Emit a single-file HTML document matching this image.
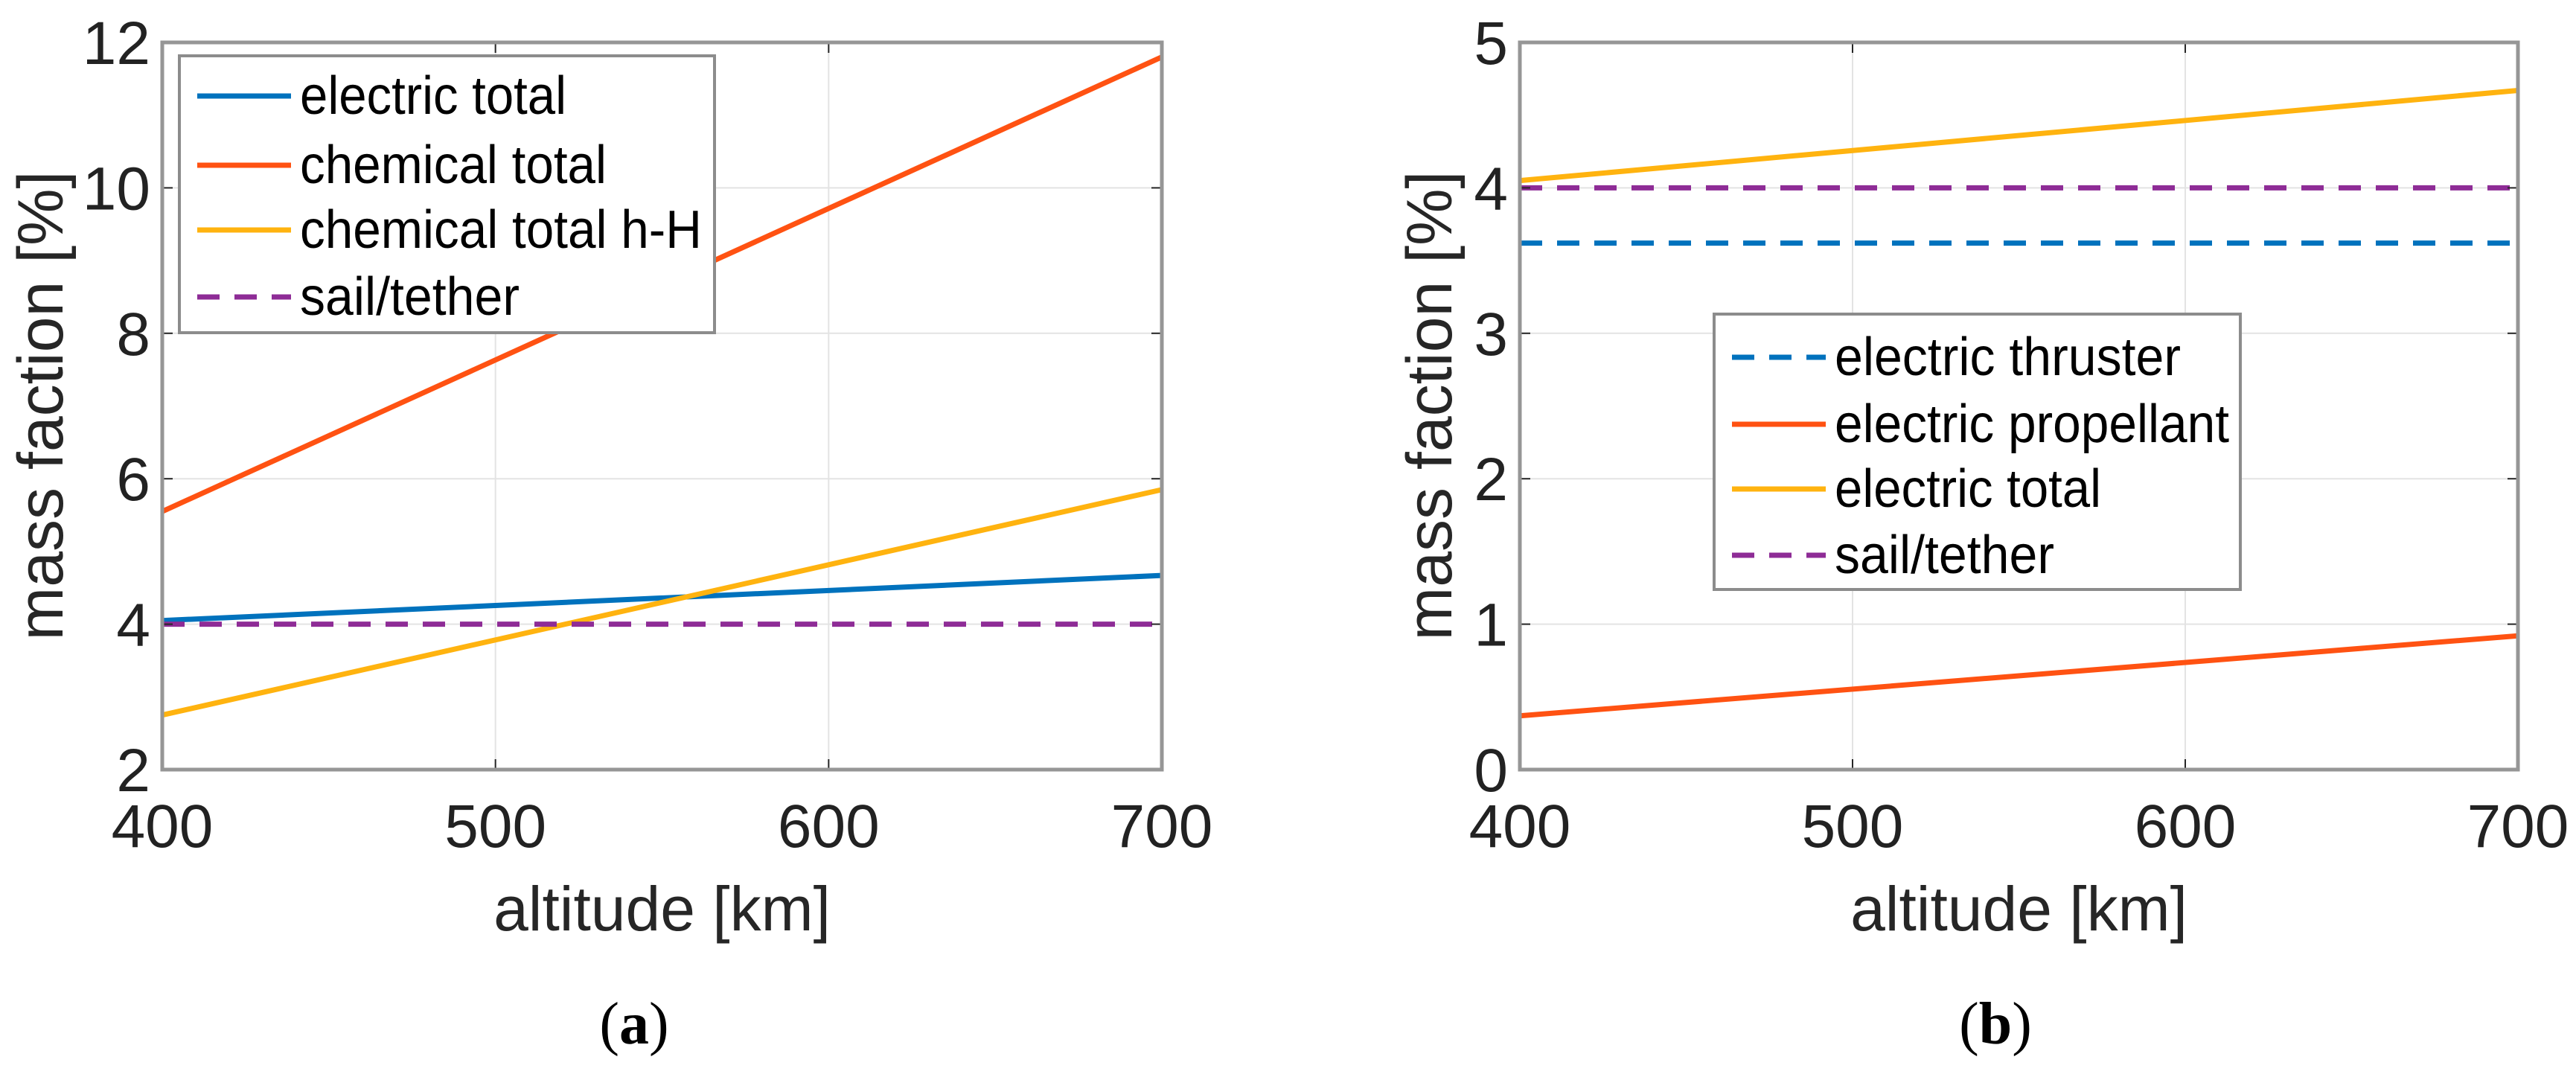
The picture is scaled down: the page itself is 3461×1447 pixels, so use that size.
<!DOCTYPE html>
<html><head><meta charset="utf-8"><style>
html,body{margin:0;padding:0;background:#fff;}
svg{display:block;font-family:"Liberation Sans",Arial,sans-serif;}
</style></head><body>
<svg id="fig" width="3461" height="1447" viewBox="0 0 3461 1447" xmlns="http://www.w3.org/2000/svg">
<g id="pa"></g>
<g id="pb"></g>
</svg>
<script>
const xTicks = [400, 500, 600, 700];
const yTicksA = [2, 4, 6, 8, 10, 12];
const yTicksB = [0, 1, 2, 3, 4, 5];
const xEnds = [400, 700];
const aElectricTotal = [4.05, 4.67];
const aChemicalTotal = [5.55, 11.8];
const aChemicalHH = [2.75, 5.85];
const aSail = [4.0, 4.0];
const bThruster = [3.62, 3.62];
const bPropellant = [0.37, 0.92];
const bTotal = [4.05, 4.67];
const bSail = [4.0, 4.0];

const NS = "http://www.w3.org/2000/svg";
function mk(parent, tag, attrs, text){
  const e = document.createElementNS(NS, tag);
  for (const k in attrs) e.setAttribute(k, attrs[k]);
  if (text !== undefined) e.textContent = text;
  parent.appendChild(e);
  return e;
}
const BLUE="#0072BD", ORANGE="#FF5212", YELLOW="#FFB30F", PURPLE="#8E2C96";

function panel(g, cfg){
  const L=cfg.left, R=cfg.right, T=57, B=1034;
  const sx = v => L + (v - 400) / 300 * (R - L);
  const sy = v => B - (v - cfg.ymin) / (cfg.ymax - cfg.ymin) * (B - T);
  xTicks.forEach(t=>{
    const l = mk(g,'line',{x1:sx(t),x2:sx(t),y1:T,y2:B,stroke:'#e3e3e3','stroke-width':2});
    
    
  });
  cfg.yTicks.forEach(t=>{
    const l = mk(g,'line',{x1:L,x2:R,y1:sy(t),y2:sy(t),stroke:'#e3e3e3','stroke-width':2});
    
    
  });
  cfg.series.forEach(s=>{
    const a = {x1:sx(xEnds[0]),y1:sy(s.v[0]),x2:sx(xEnds[1]),y2:sy(s.v[1]),stroke:s.c,'stroke-width':7};
    if (s.dash) a['stroke-dasharray']='30 20';
    const l = mk(g,'line',a);
    
    
  });
  xTicks.forEach(t=>{
    mk(g,'line',{x1:sx(t),x2:sx(t),y1:B,y2:B-14,stroke:'#262626','stroke-width':2});
    mk(g,'line',{x1:sx(t),x2:sx(t),y1:T,y2:T+14,stroke:'#262626','stroke-width':2});
    const tx = mk(g,'text',{x:sx(t),y:1138,'font-size':82,'text-anchor':'middle',fill:'#222'},String(t));
    
    
  });
  cfg.yTicks.forEach(t=>{
    mk(g,'line',{x1:L,x2:L+14,y1:sy(t),y2:sy(t),stroke:'#262626','stroke-width':2});
    mk(g,'line',{x1:R,x2:R-14,y1:sy(t),y2:sy(t),stroke:'#262626','stroke-width':2});
    const tx = mk(g,'text',{x:L-16,y:sy(t)+29,'font-size':82,'text-anchor':'end',fill:'#222'},String(t));
    
    
  });
  const box = mk(g,'rect',{x:L,y:T,width:R-L,height:B-T,fill:'none',stroke:'#969696','stroke-width':5});
  
  
  const xl = mk(g,'text',{x:(L+R)/2,y:1250,'font-size':84,'text-anchor':'middle',fill:'#262626'},'altitude [km]');
  
  
  const yl = mk(g,'text',{x:0,y:0,'font-size':86,'text-anchor':'middle',fill:'#262626',transform:`translate(${cfg.ylx},${545}) rotate(-90)`},'mass faction [%]');
  
  
  const lg = cfg.legend;
  const lgG = mk(g,'g',{});
  
  
  mk(lgG,'rect',{x:lg.x,y:lg.y,width:lg.w,height:lg.h,fill:'#fff',stroke:'#8c8c8c','stroke-width':4});
  cfg.series.forEach((s,i)=>{
    const yy = lg.rows[i];
    const a = {x1:lg.x+24,x2:lg.x+150,y1:yy,y2:yy,stroke:s.c,'stroke-width':7};
    if (s.dash) a['stroke-dasharray']='30 20';
    const l = mk(lgG,'line',a);
    
    
    const t = mk(lgG,'text',{x:lg.x+162,y:yy+24,'font-size':72,fill:'#000',textLength:s.tl,lengthAdjust:'spacingAndGlyphs'},s.label);
    
    
  });
  const cap = mk(g,'text',{x:cfg.capx,y:1402,'font-size':80,'text-anchor':'middle',fill:'#000','font-family':'"Liberation Serif",serif'});
  
  
  mk(cap,'tspan',{},'(');
  mk(cap,'tspan',{'font-weight':'bold'},cfg.cap);
  mk(cap,'tspan',{},')');
}

panel(document.getElementById('pa'),{
  left:218,right:1561,ymin:2,ymax:12,yTicks:yTicksA,ylx:84,capx:852,cap:'a',
  series:[
    {name:'electric-total-line',label:'electric total',v:aElectricTotal,c:BLUE,tl:358},
    {name:'chemical-total-line',label:'chemical total',v:aChemicalTotal,c:ORANGE,tl:412},
    {name:'chemical-total-hh-line',label:'chemical total h-H',v:aChemicalHH,c:YELLOW,tl:540},
    {name:'sail-tether-line',label:'sail/tether',v:aSail,c:PURPLE,dash:true,tl:295}
  ],
  legend:{x:241,y:75,w:719,h:372,rows:[129,222,309,399]}
});
panel(document.getElementById('pb'),{
  left:2042,right:3383,ymin:0,ymax:5,yTicks:yTicksB,ylx:1950,capx:2681,cap:'b',
  series:[
    {name:'electric-thruster-line',label:'electric thruster',v:bThruster,c:BLUE,dash:true,tl:465},
    {name:'electric-propellant-line',label:'electric propellant',v:bPropellant,c:ORANGE,tl:530},
    {name:'electric-total-line',label:'electric total',v:bTotal,c:YELLOW,tl:358},
    {name:'sail-tether-line',label:'sail/tether',v:bSail,c:PURPLE,dash:true,tl:295}
  ],
  legend:{x:2303,y:422,w:707,h:370,rows:[480,570,657,746]}
});
</script>
</body></html>
